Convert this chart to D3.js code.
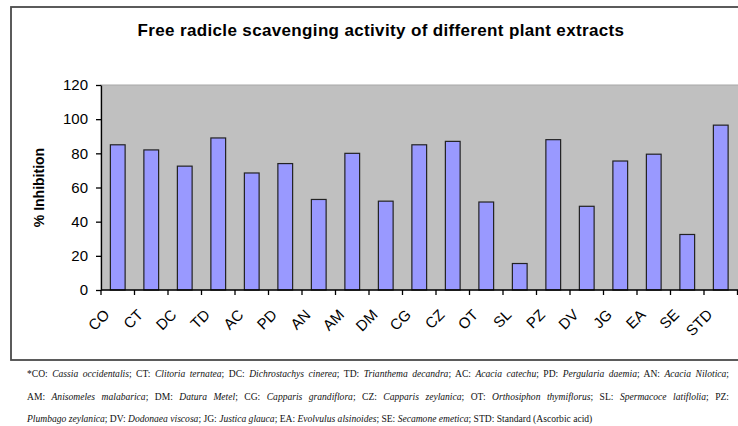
<!DOCTYPE html>
<html>
<head>
<meta charset="utf-8">
<script src="https://cdn.jsdelivr.net/npm/d3@7"></script>
<style>
  html, body { margin: 0; padding: 0; background: #fff; }
  svg { display: block; }
</style>
</head>
<body>
<svg id="chart" width="738" height="426"></svg>
<script>
const categories = ["CO","CT","DC","TD","AC","PD","AN","AM","DM","CG","CZ","OT","SL","PZ","DV","JG","EA","SE","STD"];
const inhibition = [85, 82, 72.5, 89, 68.5, 74, 53, 80, 52, 85, 87, 51.5, 15.5, 88, 49, 75.5, 79.5, 32.5, 96.5];
const yTicks = [0, 20, 40, 60, 80, 100, 120];
const titleText = "Free radicle scavenging activity of different plant extracts";
const yTitle = "% Inhibition";
// footnote lines: [text, italic?]
const footLine1 = [["*CO: ",0],["Cassia occidentalis",1],["; CT: ",0],["Clitoria ternatea",1],["; DC: ",0],["Dichrostachys cinerea",1],["; TD: ",0],["Trianthema decandra",1],["; AC: ",0],["Acacia catechu",1],["; PD: ",0],["Pergularia daemia",1],["; AN: ",0],["Acacia Nilotica",1],[";",0]];
const footLine2 = [["AM: ",0],["Anisomeles malabarica",1],["; DM: ",0],["Datura Metel",1],["; CG: ",0],["Capparis grandiflora",1],["; CZ: ",0],["Capparis zeylanica",1],["; OT: ",0],["Orthosiphon thymiflorus",1],["; SL: ",0],["Spermacoce latiflolia",1],["; PZ:",0]];
const footLine3 = [["Plumbago zeylanica",1],["; DV: ",0],["Dodonaea viscosa",1],["; JG: ",0],["Justica glauca",1],["; EA: ",0],["Evolvulus alsinoides",1],["; SE: ",0],["Secamone emetica",1],["; STD: Standard (Ascorbic acid)",0]];

const svg = d3.select("#chart");
const plot = {left: 101, right: 737.5, top: 85, bottom: 290};

// outer frame
svg.append("rect").attr("x", 11).attr("y", 7).attr("width", 760).attr("height", 353)
  .attr("fill", "#fff").attr("stroke", "#4a4a4a").attr("stroke-width", 1.8);

const x = d3.scaleBand().domain(categories).range([plot.left, plot.right]).paddingInner(0.56).paddingOuter(0.28);
const y = d3.scaleLinear().domain([0, 120]).range([plot.bottom, plot.top]);

// plot background
svg.append("rect").attr("x", plot.left).attr("y", plot.top)
  .attr("width", 760 - plot.left).attr("height", plot.bottom - plot.top)
  .attr("fill", "#c0c0c0").attr("stroke", "#a8a8a8").attr("stroke-width", 1);

// bars
svg.append("g").selectAll("rect").data(categories).join("rect")
  .attr("x", d => x(d))
  .attr("y", (d, i) => y(inhibition[i]))
  .attr("width", x.bandwidth())
  .attr("height", (d, i) => y(0) - y(inhibition[i]))
  .attr("fill", "#9999ff").attr("stroke", "#222").attr("stroke-width", 1.2);

// y axis
const yAxis = svg.append("g").attr("transform", `translate(${plot.left},0)`)
  .call(d3.axisLeft(y).tickValues(yTicks).tickSize(5).tickPadding(8).tickSizeOuter(0));
yAxis.select(".domain").attr("stroke", "#000").attr("stroke-width", 1.3);
yAxis.selectAll(".tick line").attr("stroke", "#000").attr("stroke-width", 1.3);
yAxis.selectAll(".tick text").attr("font-family", "Liberation Sans, Arial, sans-serif")
  .attr("font-size", 15).attr("fill", "#000");

// x axis: ticks at band boundaries
const nCat = categories.length;
const boundaries = d3.range(nCat + 1).map(i => plot.left + i * (plot.right - plot.left) / nCat);
const xAxisG = svg.append("g");
xAxisG.append("line").attr("x1", plot.left).attr("x2", 760).attr("y1", plot.bottom).attr("y2", plot.bottom)
  .attr("stroke", "#000").attr("stroke-width", 1.3);
xAxisG.selectAll("line.tk").data(boundaries).join("line").attr("class", "tk")
  .attr("x1", d => d).attr("x2", d => d).attr("y1", plot.bottom).attr("y2", plot.bottom + 5)
  .attr("stroke", "#000").attr("stroke-width", 1.3);
xAxisG.selectAll("text.lbl").data(categories).join("text").attr("class", "lbl")
  .attr("transform", d => `translate(${x(d) + x.bandwidth() / 2 - 11},${plot.bottom + 22}) rotate(-45)`)
  .attr("text-anchor", "end").attr("dy", "0.35em")
  .attr("font-family", "Liberation Sans, Arial, sans-serif").attr("font-size", 15).attr("fill", "#000")
  .text(d => d);

// title
svg.append("text").attr("x", 381).attr("y", 36).attr("text-anchor", "middle")
  .attr("font-family", "Liberation Sans, Arial, sans-serif").attr("font-weight", "bold").attr("font-size", 17)
  .attr("letter-spacing", 0.35)
  .text(titleText);

// y title
svg.append("text").attr("transform", `translate(44,${(plot.top + plot.bottom) / 2}) rotate(-90)`)
  .attr("text-anchor", "middle")
  .attr("font-family", "Liberation Sans, Arial, sans-serif").attr("font-weight", "bold").attr("font-size", 14)
  .text(yTitle);

// footnote
const footX = 27, footRight = 729;
function footLine(segs, yPos) {
  const t = svg.append("text").attr("x", footX).attr("y", yPos)
    .attr("font-family", "Liberation Serif, Times New Roman, serif").attr("font-size", 10.5).attr("fill", "#111")
    .style("white-space", "pre");
  segs.forEach(s => t.append("tspan").attr("font-style", s[1] ? "italic" : "normal").text(s[0]));
  return t;
}
const l1 = footLine(footLine1, 377);
const l2 = footLine(footLine2, 400);
const l3 = footLine(footLine3, 422);
// scale font so line 3 matches its width, then justify lines 1 and 2
const w3 = l3.node().getComputedTextLength();
const fs = 10.5 * (593 - footX) / w3;
[l1, l2, l3].forEach(l => l.attr("font-size", fs));
[[l1, footLine1], [l2, footLine2]].forEach(([l, segs]) => {
  const w = l.node().getComputedTextLength();
  const spaces = segs.map(s => (s[0].match(/ /g) || []).length).reduce((a, b) => a + b, 0);
  l.attr("word-spacing", (footRight - footX - w) / spaces);
});
</script>
</body>
</html>
